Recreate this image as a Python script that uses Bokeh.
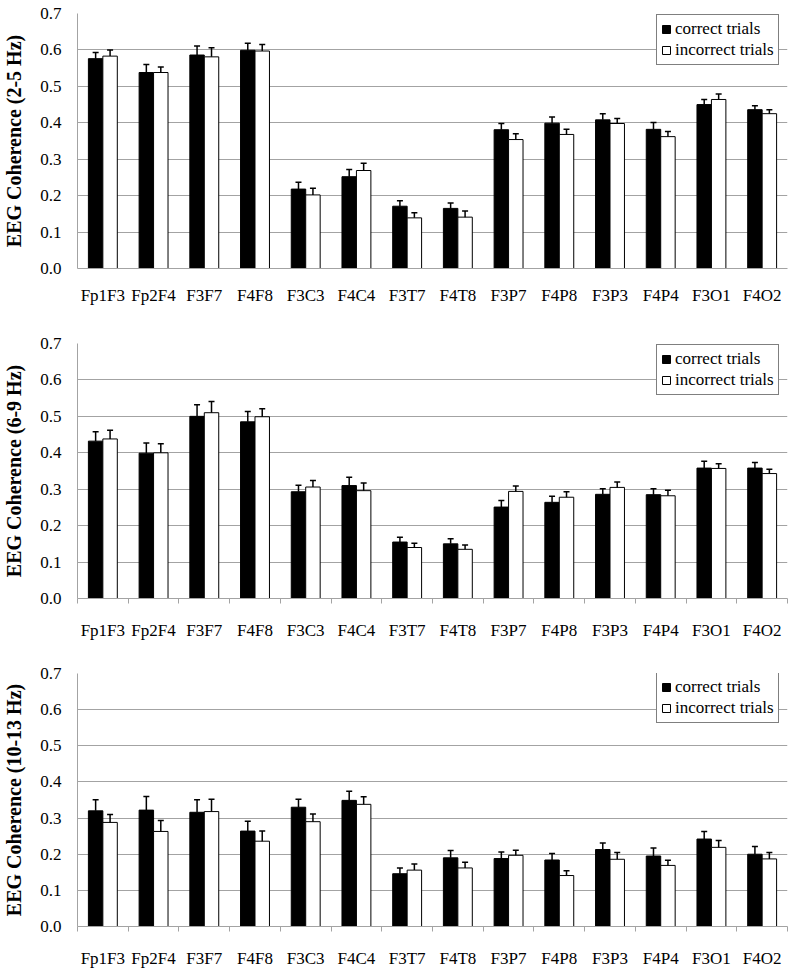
from bokeh.plotting import figure
from bokeh.layouts import column
from bokeh.models import (Range1d, FixedTicker, PrintfTickFormatter, Legend, LegendItem,
                          ColumnDataSource)
from bokeh.embed import file_html
from bokeh.resources import INLINE

pairs = ["Fp1F3", "Fp2F4", "F3F7", "F4F8", "F3C3", "F4C4", "F3T7", "F4T8",
         "F3P7", "F4P8", "F3P3", "F4P4", "F3O1", "F4O2"]
y_ticks = [0.0, 0.1, 0.2, 0.3, 0.4, 0.5, 0.6, 0.7]

bands = ["2-5 Hz", "6-9 Hz", "10-13 Hz"]

correct_2_5 = [0.576, 0.538, 0.586, 0.599, 0.218, 0.252, 0.171, 0.165, 0.381, 0.399, 0.408, 0.382, 0.450, 0.436]
correct_2_5_err = [0.017, 0.022, 0.025, 0.019, 0.019, 0.020, 0.015, 0.015, 0.017, 0.017, 0.017, 0.019, 0.014, 0.011]
incorrect_2_5 = [0.583, 0.538, 0.581, 0.597, 0.202, 0.269, 0.139, 0.141, 0.354, 0.368, 0.398, 0.362, 0.464, 0.425]
incorrect_2_5_err = [0.017, 0.015, 0.025, 0.018, 0.018, 0.020, 0.014, 0.017, 0.016, 0.014, 0.014, 0.014, 0.015, 0.011]

correct_6_9 = [0.432, 0.399, 0.500, 0.485, 0.293, 0.310, 0.155, 0.150, 0.251, 0.264, 0.286, 0.285, 0.358, 0.358]
correct_6_9_err = [0.026, 0.028, 0.032, 0.028, 0.018, 0.023, 0.013, 0.014, 0.018, 0.017, 0.015, 0.016, 0.019, 0.015]
incorrect_6_9 = [0.438, 0.400, 0.510, 0.499, 0.306, 0.296, 0.140, 0.135, 0.294, 0.278, 0.305, 0.282, 0.357, 0.343]
incorrect_6_9_err = [0.024, 0.025, 0.031, 0.022, 0.018, 0.021, 0.012, 0.012, 0.015, 0.015, 0.015, 0.015, 0.013, 0.012]

correct_10_13 = [0.320, 0.322, 0.316, 0.264, 0.330, 0.349, 0.146, 0.190, 0.188, 0.184, 0.213, 0.195, 0.242, 0.200]
correct_10_13_err = [0.031, 0.038, 0.035, 0.027, 0.022, 0.025, 0.016, 0.020, 0.018, 0.018, 0.018, 0.022, 0.021, 0.021]
incorrect_10_13 = [0.288, 0.263, 0.318, 0.236, 0.290, 0.338, 0.156, 0.162, 0.197, 0.141, 0.186, 0.169, 0.219, 0.187]
incorrect_10_13_err = [0.022, 0.030, 0.034, 0.028, 0.021, 0.021, 0.017, 0.016, 0.014, 0.013, 0.019, 0.014, 0.019, 0.018]

panels = [
    (bands[0], correct_2_5, correct_2_5_err, incorrect_2_5, incorrect_2_5_err),
    (bands[1], correct_6_9, correct_6_9_err, incorrect_6_9, incorrect_6_9_err),
    (bands[2], correct_10_13, correct_10_13_err, incorrect_10_13, incorrect_10_13_err),
]

FONT = "Liberation Serif"
GRID = "#a3a3a3"
BAR_W = 0.285
OFF = 0.1425


def make_panel(idx, band, c, ce, ic, ice):
    last = idx == 2
    h = 310 if last else 330
    p = figure(width=800, height=h, output_backend="svg", toolbar_location=None,
               x_range=Range1d(0, len(pairs)), y_range=Range1d(0, 0.7),
               min_border_left=76, min_border_right=13, min_border_top=13,
               min_border_bottom=h - 13 - 255)
    p.outline_line_color = None
    p.background_fill_color = "white"

    centers = [i + 0.5 for i in range(len(pairs))]
    src_c = ColumnDataSource(dict(x=[x - OFF for x in centers], top=c,
                                  hi=[a + b for a, b in zip(c, ce)]))
    src_i = ColumnDataSource(dict(x=[x + OFF for x in centers], top=ic,
                                  hi=[a + b for a, b in zip(ic, ice)]))

    r_c = p.vbar(x="x", top="top", bottom=0, width=BAR_W, source=src_c,
                 fill_color="black", line_color="black", line_width=1)
    r_i = p.vbar(x="x", top="top", bottom=0, width=BAR_W, source=src_i,
                 fill_color="white", line_color="black", line_width=1)
    for s in (src_c, src_i):
        p.segment(x0="x", y0="top", x1="x", y1="hi", source=s,
                  line_color="black", line_width=1.5)
        p.scatter(x="x", y="hi", source=s, marker="dash", size=6,
                  line_color="black", line_width=1.5)

    xa = p.xaxis[0]
    xa.ticker = FixedTicker(ticks=centers, minor_ticks=list(range(len(pairs) + 1)))
    xa.major_label_overrides = {x: lab for x, lab in zip(centers, pairs)}
    xa.major_tick_out = 0
    xa.major_tick_in = 0
    xa.major_tick_line_color = None
    xa.minor_tick_in = 0
    xa.minor_tick_out = 0 if idx == 0 else 5
    xa.minor_tick_line_color = GRID
    xa.axis_line_color = GRID
    xa.major_label_text_font = FONT
    xa.major_label_text_font_size = "17px"
    xa.major_label_text_color = "black"
    xa.major_label_standoff = 17

    ya = p.yaxis[0]
    ya.ticker = FixedTicker(ticks=y_ticks)
    ya.formatter = PrintfTickFormatter(format="%.1f")
    ya.major_tick_out = 0
    ya.major_tick_in = 0
    ya.minor_tick_line_color = None
    ya.axis_line_color = GRID
    ya.major_label_text_font = FONT
    ya.major_label_text_font_size = "17px"
    ya.major_label_text_color = "black"
    ya.major_label_standoff = 16
    ya.axis_label = "EEG Coherence (" + band + ")"
    ya.axis_label_text_font = FONT
    ya.axis_label_text_font_style = "bold"
    ya.axis_label_text_font_size = "20px"
    ya.axis_label_text_color = "black"
    ya.axis_label_standoff = 12

    p.xgrid.grid_line_color = None
    p.ygrid.grid_line_color = GRID
    p.ygrid.grid_line_width = 1

    legend = Legend(items=[LegendItem(label="correct trials", renderers=[r_c]),
                           LegendItem(label="incorrect trials", renderers=[r_i])],
                    location=(579, 203), orientation="vertical",
                    label_text_font=FONT, label_text_font_size="17px",
                    label_text_color="black",
                    glyph_width=10, glyph_height=10, label_standoff=4,
                    label_height=19, padding=4, spacing=1,
                    margin=0, border_line_color="black", border_line_width=1.5,
                    background_fill_color="white", background_fill_alpha=1)
    p.add_layout(legend, "center")
    return p


figs = [make_panel(i, *panels[i]) for i in range(3)]
layout = column(*figs, spacing=0)

open("out.html", "w").write(file_html(layout, INLINE))
